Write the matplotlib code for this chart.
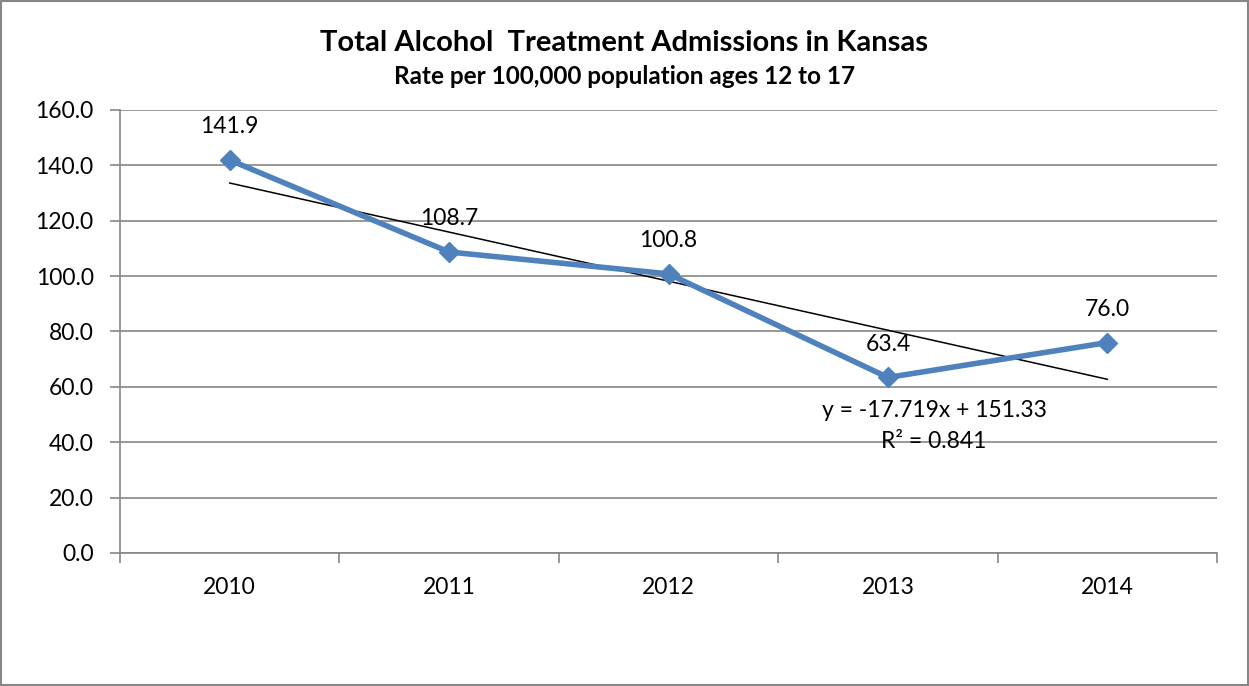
import numpy as np
import matplotlib.pyplot as plt
from matplotlib.patches import Rectangle

years = ['2010', '2011', '2012', '2013', '2014']
rates = [141.9, 108.7, 100.8, 63.4, 76.0]
y_ticks = [0, 20, 40, 60, 80, 100, 120, 140, 160]

# linear trend as reported with the chart (x counted 1..5)
trend_slope = -17.719
trend_intercept = 151.33
trend_r2 = 0.841

plt.rcParams['font.family'] = ['Lato', 'DejaVu Sans']

fig = plt.figure(figsize=(12.49, 6.86), dpi=100)
ax = fig.add_axes([0.0961, 0.1939, 0.8783, 0.6458])

x = np.arange(len(years))
grid_c = '#868686'
fs = 16.5

for v in y_ticks:
    ax.axhline(v, color=grid_c, lw=1.2, zorder=1)

ax.plot(x, rates, color='#4F81BD', lw=4, marker='D', markersize=10,
        zorder=3)

xs = np.array([x[0], x[-1]])
ax.plot(xs, trend_slope * (xs + 1) + trend_intercept, color='black', lw=1.1,
        zorder=2)

for xi, v in zip(x, rates):
    ax.annotate(f'{v:.1f}', (xi, v), xytext=(0, 24), textcoords='offset points',
                ha='center', va='center', fontsize=fs, zorder=4)

ax.text(3.21, 51.6, f'y = {trend_slope:.3f}x + {trend_intercept:.2f}',
        ha='center', va='center', fontsize=fs)
ax.text(3.21, 40.1, f'R² = {trend_r2:.3f}', ha='center', va='center',
        fontsize=fs)

ax.set_xlim(-0.5, len(years) - 0.5)
ax.set_ylim(0, 160)
ax.set_yticks(y_ticks)
ax.set_yticklabels([f'{v:.1f}' for v in y_ticks], fontsize=fs)
ax.set_xticks(x)
ax.set_xticklabels(years, fontsize=fs)
ax.tick_params(axis='x', length=0, pad=17)
ax.tick_params(axis='y', length=7, color=grid_c, width=1.2, pad=12)
# category boundary ticks on the x axis
ax.set_xticks(np.arange(-0.5, len(years)), minor=True)
ax.tick_params(axis='x', which='minor', length=7, color=grid_c, width=1.2)

for s in ['top', 'right']:
    ax.spines[s].set_visible(False)
for s in ['left', 'bottom']:
    ax.spines[s].set_color(grid_c)
    ax.spines[s].set_linewidth(1.2)

fig.text(0.5, 0.938, 'Total Alcohol  Treatment Admissions in Kansas',
         ha='center', va='center', fontsize=21, fontweight='bold')
fig.text(0.5, 0.888, 'Rate per 100,000 population ages 12 to 17',
         ha='center', va='center', fontsize=17.5, fontweight='bold')

fig.patches.append(Rectangle((0.001, 0.002), 0.998, 0.996, transform=fig.transFigure,
                             fill=False, edgecolor=grid_c, lw=1.5))

fig.savefig('out.png', dpi=100)
